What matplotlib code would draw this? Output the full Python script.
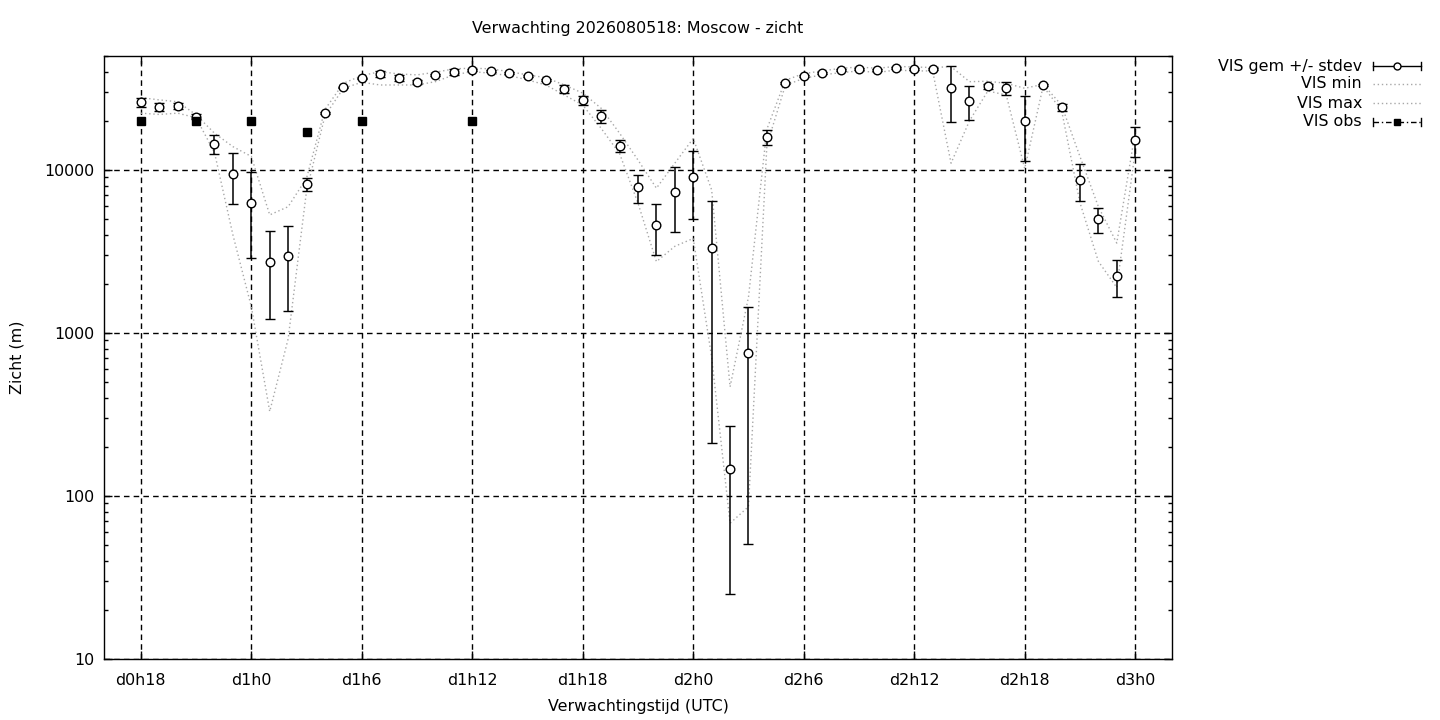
import matplotlib
matplotlib.use('Agg')
import matplotlib.pyplot as plt
from matplotlib.lines import Line2D
from matplotlib.ticker import LogLocator, NullFormatter, FixedLocator, FixedFormatter

# ---- data (hours since d0h0) ----
hours = list(range(18, 73))
vis_mean = [26000, 24400, 24700, 21200, 14450, 9420, 6280, 2720, 2950, 8170,
            22400, 32100, 36600, 38800, 36700, 34700, 38100, 39900, 40900, 40300,
            39200, 37600, 35500, 31300, 26800, 21400, 14100, 7840, 4580, 7290,
            9020, 3310, 146, 751, 15850, 34200, 37800, 39400, 40900, 41700,
            40900, 42300, 41700, 41500, 31700, 26500, 32700, 31700, 20000, 33200,
            24300, 8650, 4980, 2230, 15200]
vis_sd = [1650, 1450, 1200, 700, 1870, 3240, 3400, 1510, 1580, 750,
          300, 300, 300, 1700, 1400, 800, 500, 1900, 500, 500,
          500, 500, 600, 1830, 1630, 1960, 1150, 1530, 1560, 3140,
          3990, 3100, 121, 700, 1620, 500, 500, 500, 500, 500,
          500, 500, 500, 500, 11950, 6300, 1150, 2750, 8600, 500,
          1150, 2170, 900, 575, 3270]
vis_min = [22300, 21900, 22300, 20900, 12800, 4000, 1450, 330, 920, 7450,
           21500, 31700, 34500, 33200, 33200, 33200, 34800, 38300, 40100, 39200,
           37900, 35700, 33200, 28800, 25000, 18000, 12600, 6250, 2740, 3400,
           3800, 710, 68, 86, 14200, 33000, 36500, 38300, 39500, 40500,
           39600, 41000, 40500, 40500, 11000, 20000, 30500, 28800, 10200, 32500,
           23300, 6300, 2750, 1900, 13000]
vis_max = [27800, 26900, 26200, 21800, 16800, 13900, 12100, 5300, 5950, 8900,
           23500, 34000, 37900, 40100, 38800, 38300, 39750, 41700, 42100, 41700,
           40100, 38300, 36800, 33200, 29600, 23900, 16800, 11500, 7730, 11000,
           15600, 7540, 467, 1660, 17800, 35500, 39000, 40500, 42000, 42800,
           42000, 43200, 42800, 42500, 43000, 34800, 35000, 34000, 31700, 33500,
           25000, 12100, 5960, 3560, 17000]
obs_hours = [18, 21, 24, 27, 30, 36]
obs_vis = [20000, 20000, 20000, 17100, 20000, 20000]

tick_hours = [18, 24, 30, 36, 42, 48, 54, 60, 66, 72]
tick_labels = ['d0h18', 'd1h0', 'd1h6', 'd1h12', 'd1h18', 'd2h0', 'd2h6',
               'd2h12', 'd2h18', 'd3h0']
y_ticks = [10, 100, 1000, 10000]
y_tick_labels = ['10', '100', '1000', '10000']

title = 'Verwachting 2026080518: Moscow - zicht'
legend_labels = ['VIS gem +/- stdev', 'VIS min', 'VIS max', 'VIS obs']

# ---- style ----
plt.rcParams['font.family'] = ['DejaVu Sans']
plt.rcParams['font.size'] = 11.4

W, H = 1440, 720
fig = plt.figure(figsize=(W / 100, H / 100), dpi=100)
L, R, T, B = 104, 1172, 56, 659
ax = fig.add_axes([L / W, 1 - B / H, (R - L) / W, (B - T) / H])
ax.set_yscale('log')
ax.set_xlim(16, 74)
ax.set_ylim(10, 50000)

gray = '#a8a8a8'
dot = (0, (1, 2))
ax.plot(hours, vis_min, ls=dot, color=gray, lw=1.0, zorder=2)
ax.plot(hours, vis_max, ls=dot, color=gray, lw=1.0, zorder=2)
ax.errorbar(hours, vis_mean, yerr=vis_sd, fmt='o', ms=6.2, mfc='white', mec='black',
            mew=1.0, ecolor='black', elinewidth=1.1, capsize=3.6, capthick=1.1, zorder=4)
ax.plot(obs_hours, obs_vis, 's', color='black', ms=6, ls='none', zorder=5)

ax.xaxis.set_major_locator(FixedLocator(tick_hours))
ax.xaxis.set_major_formatter(FixedFormatter(tick_labels))
ax.yaxis.set_major_locator(FixedLocator(y_ticks))
ax.yaxis.set_major_formatter(FixedFormatter(y_tick_labels))
ax.yaxis.set_minor_locator(LogLocator(base=10, subs=range(2, 10)))
ax.yaxis.set_minor_formatter(NullFormatter())

ax.grid(True, which='major', color='black', ls=(0, (4, 3)), lw=1.0, zorder=1)
ax.tick_params(which='both', direction='in', top=True, right=True, width=1.0)
ax.tick_params(which='major', length=6)
ax.tick_params(which='minor', length=3)
ax.tick_params(axis='x', pad=10)
ax.tick_params(axis='y', pad=7)
for s in ax.spines.values():
    s.set_linewidth(1.0)

ax.set_xlabel('Verwachtingstijd (UTC)')
ax.xaxis.set_label_coords(0.5, -0.066)
ax.set_ylabel('Zicht (m)')
ax.yaxis.set_label_coords(-0.074, 0.5)

fig.text(638 / W, 1 - 29 / H, title, ha='center', va='center')

# ---- key (gnuplot style, right outside) ----
key_y = [66, 84, 103, 122]
tx, x0, x1 = 1362, 1373, 1421
xm = (x0 + x1) / 2
cap = 4
for lab, yy in zip(legend_labels, key_y):
    fig.text(tx / W, 1 - yy / H, lab, ha='right', va='center')

def fx(v):
    return v / W

def fy(v):
    return 1 - v / H

y0 = key_y[0]
fig.add_artist(Line2D([fx(x0), fx(x1)], [fy(y0), fy(y0)], color='black', lw=1.0))
for xe in (x0, x1):
    fig.add_artist(Line2D([fx(xe), fx(xe)], [fy(y0 - cap), fy(y0 + cap)], color='black', lw=1.0))
fig.add_artist(Line2D([fx(xm)], [fy(y0)], marker='o', ms=5, mfc='white', mec='black', mew=1.0, ls='none'))
for yy in key_y[1:3]:
    fig.add_artist(Line2D([fx(x0), fx(x1)], [fy(yy), fy(yy)], color=gray, lw=1.0, ls=dot))
y3 = key_y[3]
fig.add_artist(Line2D([fx(x0), fx(x1)], [fy(y3), fy(y3)], color='black', lw=1.0, ls=(0, (4, 2, 1, 2))))
for xe in (x0, x1):
    fig.add_artist(Line2D([fx(xe), fx(xe)], [fy(y3 - cap), fy(y3 + cap)], color='black', lw=1.0))
fig.add_artist(Line2D([fx(xm)], [fy(y3)], marker='s', ms=5, color='black', ls='none'))

fig.savefig('out.png', dpi=100)
